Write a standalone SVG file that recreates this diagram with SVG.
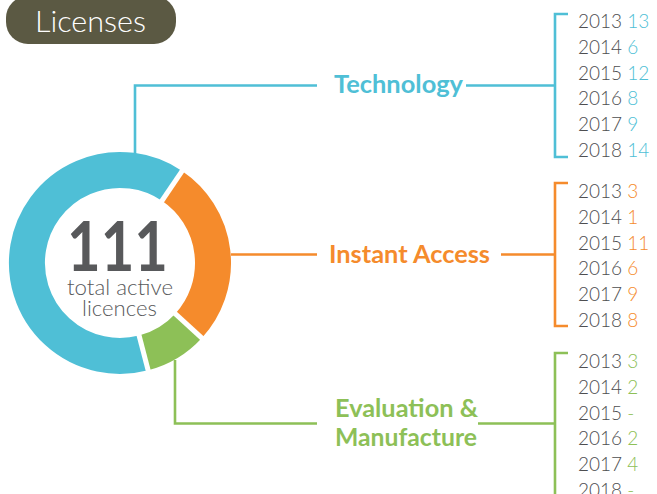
<svg xmlns="http://www.w3.org/2000/svg" width="657" height="494" viewBox="0 0 657 494">
<style>
.light{font-family:Lato,"Open Sans","Liberation Sans",sans-serif;font-weight:300;}
.lbl{font-family:Lato,"Open Sans","Liberation Sans",sans-serif;font-weight:700;font-size:24px;}
.yr{font-family:Lato,"Open Sans","Liberation Sans",sans-serif;font-weight:300;font-size:19px;fill:#4d4e50;}
.ln{fill:none;stroke-width:2.6;}
.blue{stroke:#4fbfd6;} .orange{stroke:#f58b2c;} .green{stroke:#8dc057;}
.fb{fill:#4fbfd6;} .fo{fill:#f58b2c;} .fg{fill:#8dc057;}
.gap{stroke:#ffffff;stroke-width:5;}
</style>
<rect width="657" height="494" fill="#ffffff"/>
<g id="header">
<rect x="6" y="-4" width="170" height="48" rx="22" ry="22" fill="#5b5943"/>
<text x="35" y="32" class="light" font-size="30" fill="#ffffff" textLength="111" lengthAdjust="spacingAndGlyphs">Licenses</text>
</g>
<g id="donut">
<path d="M143.6,352.9 A93,93 0 1 1 172.0,185.9" fill="none" stroke="#4fbfd6" stroke-width="36"/>
<path d="M172.0,185.9 A93,93 0 0 1 188.6,325.8" fill="none" stroke="#f58b2c" stroke-width="36"/>
<path d="M188.6,325.8 A93,93 0 0 1 143.6,352.9" fill="none" stroke="#8dc057" stroke-width="36"/>
<line class="gap" x1="159.1" y1="205.0" x2="184.9" y2="166.8"/>
<line class="gap" x1="171.6" y1="310.3" x2="205.5" y2="341.4"/>
<line class="gap" x1="137.8" y1="330.7" x2="149.4" y2="375.2"/>
<text x="67" y="271" font-family="Lato,'Open Sans','Liberation Sans',sans-serif" font-weight="700" font-size="68" fill="#58595b" textLength="101" lengthAdjust="spacingAndGlyphs">111</text>
<text x="67" y="295" class="light" font-size="22" fill="#58595b" textLength="106" lengthAdjust="spacingAndGlyphs">total active</text>
<text x="82" y="316" class="light" font-size="22" fill="#58595b" textLength="75" lengthAdjust="spacingAndGlyphs">licences</text>
</g>
<g id="connectors">
<path class="ln blue" d="M135,154 V85.5 H317 M466,85.5 H555 M568,14 H555 V157 H568"/>
<path class="ln orange" d="M231,254.5 H317 M501,254.5 H555 M568,183 H555 V326 H568"/>
<path class="ln green" d="M175,360 V423.5 H317 M478,423.5 H555 M568,353 H555 V500"/>
</g>
<g id="technology">
<text x="334" y="93" class="lbl fb" textLength="129" lengthAdjust="spacingAndGlyphs">Technology</text>
<text class="yr" x="578"><tspan y="28">2013 <tspan class="fb">13</tspan></tspan><tspan x="578" y="54">2014 <tspan class="fb">6</tspan></tspan><tspan x="578" y="80">2015 <tspan class="fb">12</tspan></tspan><tspan x="578" y="105">2016 <tspan class="fb">8</tspan></tspan><tspan x="578" y="131">2017 <tspan class="fb">9</tspan></tspan><tspan x="578" y="157">2018 <tspan class="fb">14</tspan></tspan></text>
</g>
<g id="instant-access">
<text x="329" y="263" class="lbl fo" textLength="161" lengthAdjust="spacingAndGlyphs">Instant Access</text>
<text class="yr" x="578"><tspan y="198">2013 <tspan class="fo">3</tspan></tspan><tspan x="578" y="224">2014 <tspan class="fo">1</tspan></tspan><tspan x="578" y="250">2015 <tspan class="fo">11</tspan></tspan><tspan x="578" y="275">2016 <tspan class="fo">6</tspan></tspan><tspan x="578" y="301">2017 <tspan class="fo">9</tspan></tspan><tspan x="578" y="327">2018 <tspan class="fo">8</tspan></tspan></text>
</g>
<g id="evaluation-manufacture">
<text x="335" y="417" class="lbl fg" textLength="143" lengthAdjust="spacingAndGlyphs">Evaluation &amp;</text>
<text x="335" y="446" class="lbl fg" textLength="142" lengthAdjust="spacingAndGlyphs">Manufacture</text>
<text class="yr" x="578"><tspan y="368">2013 <tspan class="fg">3</tspan></tspan><tspan x="578" y="394">2014 <tspan class="fg">2</tspan></tspan><tspan x="578" y="420">2015 <tspan class="fg">-</tspan></tspan><tspan x="578" y="445">2016 <tspan class="fg">2</tspan></tspan><tspan x="578" y="471">2017 <tspan class="fg">4</tspan></tspan><tspan x="578" y="497">2018 <tspan class="fg">-</tspan></tspan></text>
</g>
</svg>
